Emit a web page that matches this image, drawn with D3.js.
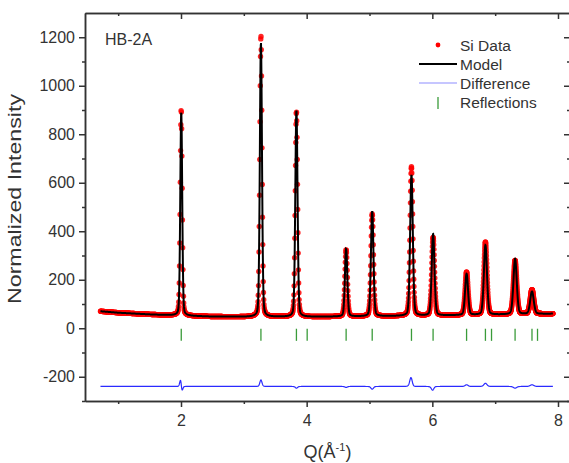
<!DOCTYPE html>
<html>
<head>
<meta charset="utf-8">
<script src="https://cdn.jsdelivr.net/npm/d3@7"></script>
<style>
  body { margin: 0; background: #fff; }
  svg { font-family: "Liberation Sans", Arial, sans-serif; }
</style>
</head>
<body>
<div id="chart"></div>
<script>
// Si reflections (Q, 1/Å) shown as green ticks
const reflectionQ = [2.004, 3.272, 3.837, 4.008, 4.628, 5.043, 5.668, 6.012, 6.545, 6.845, 6.942, 7.317, 7.586, 7.674];

const peakQ = [2.004, 3.272, 3.837, 4.628, 5.043, 5.668, 6.012, 6.545, 6.845, 7.317, 7.586];
const obsTop = [903, 1207, 893, 323, 471, 666, 374, 231, 355, 279, 158];
const calcTop = [895, 1180, 900, 327, 482, 632, 388, 224, 342, 286, 151];
const peakFwhm = [0.036, 0.04, 0.042, 0.045, 0.047, 0.05, 0.052, 0.055, 0.058, 0.062, 0.066];
const obsShift = [-0.0006, 0, 0, 0, 0, -0.0005, 0.0004, 0, 0, 0, 0];

// background level
const bgQ = [0.72, 1.0, 1.5, 2.0, 2.5, 3.0, 4.0, 5.0, 6.0, 7.0, 7.92];
const bgI = [70, 64, 57, 52, 48, 47, 47, 49, 52, 56, 60];

// scan: HB-2A, lambda 1.54 A, steps in 2theta
const wavelength = 1.54;
const twoThetaStart = 10.1, twoThetaEnd = 152.1, twoThetaStep = 0.06;
const diffOffset = -240;

const yTicks = [-200, 0, 200, 400, 600, 800, 1000, 1200];
const yMinor = [-300, -100, 100, 300, 500, 700, 900, 1100];
const xTicks = [2, 4, 6, 8];
const xMinor = [1, 3, 5, 7];

const legendItems = ['Si Data', 'Model', 'Difference', 'Reflections'];

const width = 569, height = 463;
const plotLeft = 85, plotRight = 570, plotTop = 13, plotBottom = 401;

const x = d3.scaleLinear().domain([0.4721, 8.191]).range([plotLeft, plotRight]);
const y = d3.scaleLinear().domain([-300, 1300]).range([plotBottom, plotTop]);
const bg = d3.scaleLinear().domain(bgQ).range(bgI);

const eta = 0.2;
function pv(dq, w) {
  const t = dq / w;
  return eta / (1 + 4 * t * t) + (1 - eta) * Math.exp(-4 * Math.LN2 * t * t);
}

const scan = d3.range(twoThetaStart, twoThetaEnd, twoThetaStep).map(tt => {
  const q = 4 * Math.PI * Math.sin(tt / 2 * Math.PI / 180) / wavelength;
  let calc = bg(q), obs = bg(q);
  peakQ.forEach((p, i) => {
    calc += (calcTop[i] - bg(p)) * pv(q - p, peakFwhm[i]);
    obs += (obsTop[i] - bg(p)) * pv(q - p - obsShift[i], peakFwhm[i]);
  });
  return { q, obs, calc };
});

const svg = d3.select('#chart').append('svg')
  .attr('width', width)
  .attr('height', height);

// difference
svg.append('path')
  .datum(scan)
  .attr('fill', 'none')
  .attr('stroke', '#2b2bff')
  .attr('stroke-width', 1.2)
  .attr('d', d3.line().x(d => x(d.q)).y(d => y(d.obs - d.calc + diffOffset)));

// reflections
svg.append('g').selectAll('line')
  .data(reflectionQ)
  .enter().append('line')
  .attr('x1', d => x(d)).attr('x2', d => x(d))
  .attr('y1', y(-2)).attr('y2', y(-52))
  .attr('stroke', '#3a9b3a')
  .attr('stroke-width', 1.3);

// data points
svg.append('g').selectAll('circle')
  .data(scan)
  .enter().append('circle')
  .attr('cx', d => x(d.q))
  .attr('cy', d => y(d.obs))
  .attr('r', 2.7)
  .attr('fill', '#ff0000')
  .attr('fill-opacity', 0.85);

// model
svg.append('path')
  .datum(scan)
  .attr('fill', 'none')
  .attr('stroke', '#000')
  .attr('stroke-width', 2)
  .attr('d', d3.line().x(d => x(d.q)).y(d => y(d.calc)));

// axes
const fmt = d => String(d);
function styleAxis(g) {
  g.selectAll('path, line').attr('stroke', '#333').attr('stroke-width', 1.5);
  g.selectAll('text').attr('fill', '#333').style('font-size', '16px');
}

svg.append('g').attr('transform', `translate(0,${plotBottom})`)
  .call(d3.axisBottom(x).tickValues(xTicks).tickFormat(fmt).tickSize(6).tickSizeOuter(0).tickPadding(8))
  .call(styleAxis);
svg.append('g').attr('transform', `translate(0,${plotBottom})`)
  .call(d3.axisBottom(x).tickValues(xMinor).tickFormat('').tickSize(3).tickSizeOuter(0))
  .call(styleAxis);
svg.append('g').attr('transform', `translate(0,${plotTop})`)
  .call(d3.axisBottom(x).tickValues(xTicks).tickFormat('').tickSize(6).tickSizeOuter(0))
  .call(styleAxis);
svg.append('g').attr('transform', `translate(0,${plotTop})`)
  .call(d3.axisBottom(x).tickValues(xMinor).tickFormat('').tickSize(3).tickSizeOuter(0))
  .call(styleAxis);

svg.append('g').attr('transform', `translate(${plotLeft},0)`)
  .call(d3.axisLeft(y).tickValues(yTicks).tickFormat(fmt).tickSize(6).tickSizeOuter(0).tickPadding(4))
  .call(styleAxis);
svg.append('g').attr('transform', `translate(${plotLeft},0)`)
  .call(d3.axisLeft(y).tickValues(yMinor).tickFormat('').tickSize(3).tickSizeOuter(0))
  .call(styleAxis);
svg.append('g').attr('transform', `translate(${plotRight},0)`)
  .call(d3.axisLeft(y).tickValues(yTicks).tickFormat('').tickSize(6).tickSizeOuter(0))
  .call(styleAxis);
svg.append('g').attr('transform', `translate(${plotRight},0)`)
  .call(d3.axisLeft(y).tickValues(yMinor).tickFormat('').tickSize(3).tickSizeOuter(0))
  .call(styleAxis);

// labels
svg.append('text')
  .attr('transform', `translate(21,199) rotate(-90)`)
  .attr('text-anchor', 'middle')
  .attr('fill', '#333')
  .attr('textLength', 210)
  .attr('lengthAdjust', 'spacingAndGlyphs')
  .style('font-size', '18px')
  .text('Normalized Intensity');

const xl = svg.append('text')
  .attr('x', (plotLeft + plotRight) / 2)
  .attr('y', 458)
  .attr('text-anchor', 'middle')
  .attr('fill', '#333')
  .style('font-size', '18px');
xl.append('tspan').text('Q(Å');
xl.append('tspan').attr('dy', -7).style('font-size', '11px').text('-1');
xl.append('tspan').attr('dy', 7).text(')');

svg.append('text')
  .attr('x', 105).attr('y', 45)
  .attr('fill', '#333')
  .style('font-size', '16px')
  .text('HB-2A');

// legend
const leg = svg.append('g');
legendItems.forEach((name, i) => {
  leg.append('text')
    .attr('x', 460).attr('y', 51 + i * 19)
    .attr('fill', '#333')
    .style('font-size', '15.5px')
    .text(name);
});
leg.append('circle').attr('cx', 438).attr('cy', 45).attr('r', 2.4).attr('fill', '#ff0000');
leg.append('line').attr('x1', 419).attr('x2', 457).attr('y1', 64).attr('y2', 64)
  .attr('stroke', '#000').attr('stroke-width', 2);
leg.append('line').attr('x1', 419).attr('x2', 457).attr('y1', 83).attr('y2', 83)
  .attr('stroke', '#b3b3ff').attr('stroke-width', 1.5);
leg.append('line').attr('x1', 438).attr('x2', 438).attr('y1', 97).attr('y2', 109)
  .attr('stroke', '#3a9b3a').attr('stroke-width', 1.3);
</script>
</body>
</html>
